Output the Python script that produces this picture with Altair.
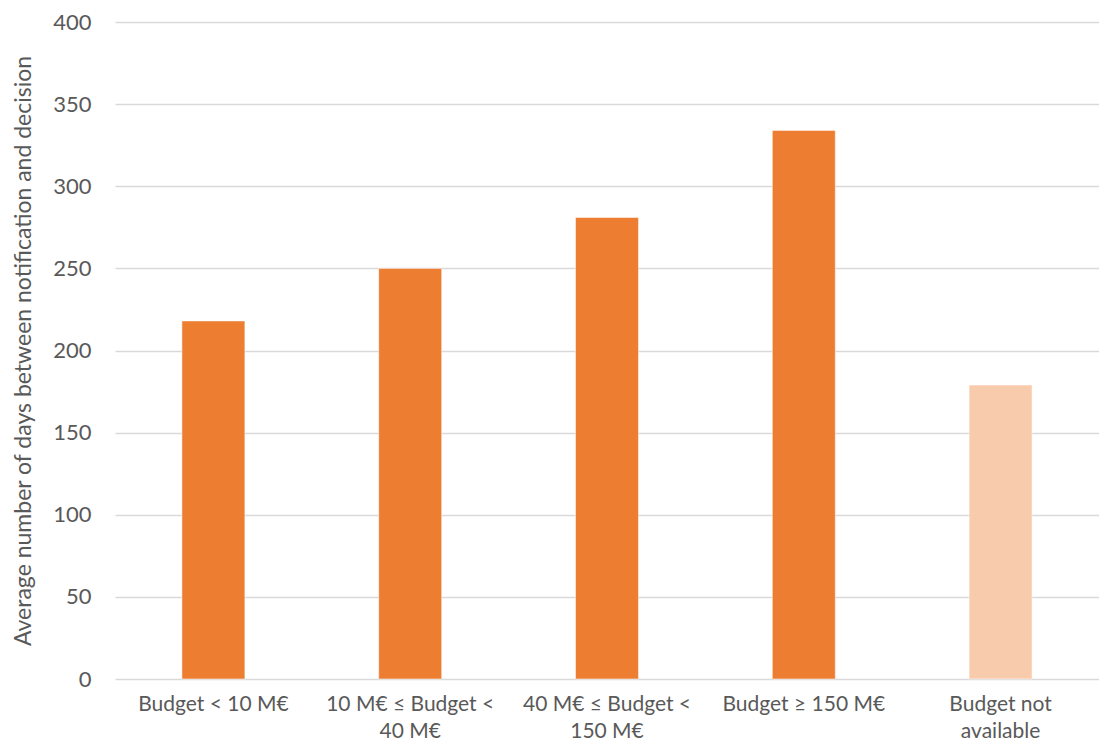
import altair as alt
import pandas as pd

categories = [
    "Budget < 10 M€",
    "10 M€ ≤ Budget <\n40 M€",
    "40 M€  ≤ Budget <\n150 M€",
    "Budget ≥ 150 M€",
    "Budget not\navailable",
]
values = [218, 250, 281, 334, 179]
colors = ["#ED7D31", "#ED7D31", "#ED7D31", "#ED7D31", "#F8CBAD"]

df = pd.DataFrame({"cat": categories, "val": values, "color": colors})

FONT = "Lato"
GREY = "#595959"

chart = alt.Chart(df).mark_bar(stroke="#ffffff", strokeOpacity=0.5, strokeWidth=1).encode(
    x=alt.X(
        "cat:N",
        sort=categories,
        scale=alt.Scale(paddingInner=0.68, paddingOuter=0.34),
        axis=alt.Axis(
            title=None,
            labelAngle=0,
            labelExpr="split(datum.label, '\\n')",
            labelFont=FONT,
            labelFontSize=21,
            labelColor=GREY,
            labelPadding=14,
            labelLineHeight=27,
            labelBaseline="top",
            domain=False,
            ticks=False,
            grid=False,
        ),
    ),
    y=alt.Y(
        "val:Q",
        scale=alt.Scale(domain=[0, 400], nice=False),
        axis=alt.Axis(
            title="Average number of days between notification and decision",
            titleFont=FONT,
            titleFontSize=23,
            titleFontWeight="normal",
            titleColor=GREY,
            titlePadding=17,
            values=[0, 50, 100, 150, 200, 250, 300, 350, 400],
            labelFont=FONT,
            labelFontSize=22,
            labelColor=GREY,
            labelPadding=24,
            domain=False,
            ticks=False,
            grid=True,
            gridColor="#d9d9d9",
            gridWidth=1.3,
        ),
    ),
    color=alt.Color("color:N", scale=None, legend=None),
).properties(
    width=984,
    height=657,
    padding={"left": 107, "top": 14, "right": 0, "bottom": 65},
    autosize=alt.AutoSizeParams(type="none"),
).configure(background="white").configure_view(stroke="transparent", strokeOpacity=0)

chart.save("out.html", embed_options={"renderer": "svg", "actions": False})
